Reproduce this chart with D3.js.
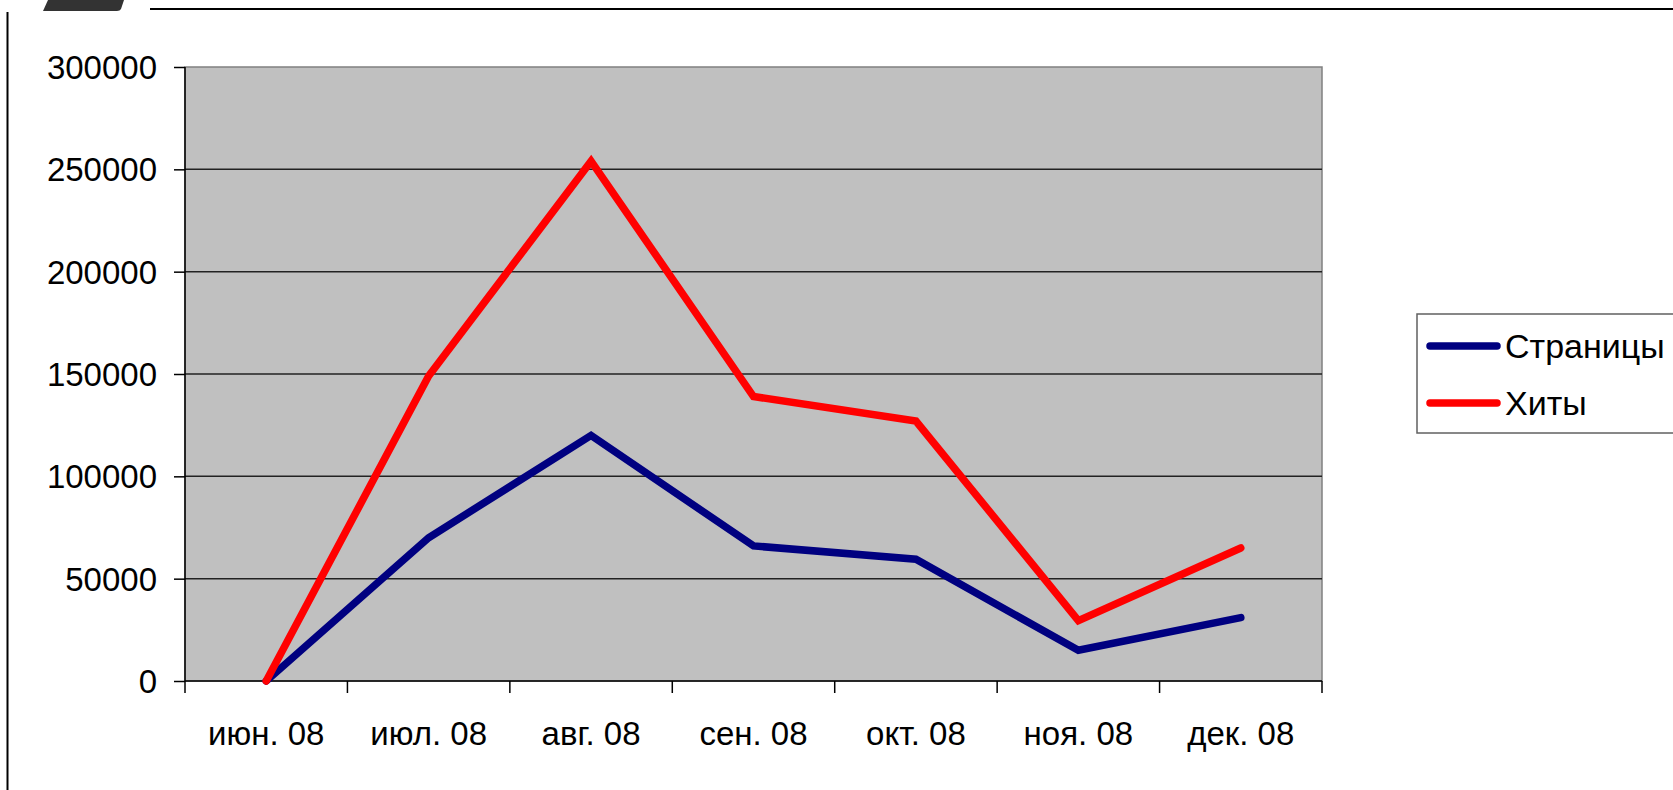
<!DOCTYPE html>
<html lang="ru">
<head>
<meta charset="UTF-8">
<title>Страницы и хиты</title>
<script src="https://cdn.jsdelivr.net/npm/d3@7"></script>
<style>
  body { margin: 0; background: #fff; }
  svg { display: block; font-family: "Liberation Sans", Arial, sans-serif; }
  .axis path { display: none; }
  .axis line { stroke: #000; stroke-width: 1.5px; }
  .axis text { fill: #000; }
</style>
</head>
<body>
<svg id="chart" width="1673" height="790"></svg>
<script>
// data
var months = ["июн. 08", "июл. 08", "авг. 08", "сен. 08", "окт. 08", "ноя. 08", "дек. 08"];
var pages = [0, 70000, 120000, 66000, 59500, 15000, 31000];
var hits = [0, 149000, 254000, 139000, 127000, 29500, 65000];
var yTicks = [0, 50000, 100000, 150000, 200000, 250000, 300000];
var seriesNames = ["Страницы", "Хиты"];
var seriesColors = ["#000080", "#ff0000"];

var svg = d3.select("#chart");
// plot area bounds (not "top": that name is taken by window.top)
var pLeft = 185, pRight = 1322, pTop = 67, pBottom = 681;

var x = d3.scaleBand().domain(months).range([pLeft, pRight]).padding(0);
var y = d3.scaleLinear().domain([0, 300000]).range([pBottom, pTop]);

// slide decoration
svg.append("path")
  .attr("d", "M43,11 L48,0 L124,0 L121,9 Q120,11 117,11 Z")
  .attr("fill", "#333");
svg.append("line").attr("x1", 150).attr("x2", 1673).attr("y1", 9).attr("y2", 9)
  .attr("stroke", "#000").attr("stroke-width", 2);
svg.append("line").attr("x1", 7.5).attr("x2", 7.5).attr("y1", 12).attr("y2", 790)
  .attr("stroke", "#000").attr("stroke-width", 2);

// plot area
svg.append("rect")
  .attr("x", pLeft).attr("y", pTop)
  .attr("width", pRight - pLeft).attr("height", pBottom - pTop)
  .attr("fill", "#c0c0c0").attr("stroke", "#808080").attr("stroke-width", 1.5);

// gridlines
svg.append("g").selectAll("line")
  .data(yTicks.slice(1, -1))
  .enter().append("line")
  .attr("x1", pLeft).attr("x2", pRight)
  .attr("y1", d => y(d)).attr("y2", d => y(d))
  .attr("stroke", "#222").attr("stroke-width", 1.5);

// y axis
var yAxis = svg.append("g").attr("class", "axis")
  .attr("transform", "translate(" + pLeft + ",0)")
  .call(d3.axisLeft(y).tickValues(yTicks).tickSize(11).tickPadding(17).tickFormat(d3.format("d")));
yAxis.selectAll("text").style("font-size", "33px").attr("dy", "0.35em");
svg.append("line").attr("x1", pLeft).attr("x2", pLeft).attr("y1", pTop).attr("y2", pBottom)
  .attr("stroke", "#000").attr("stroke-width", 1.5);

// x axis: ticks between categories
var edges = months.map(m => x(m)).concat([pRight]);
svg.append("line").attr("x1", pLeft).attr("x2", pRight).attr("y1", pBottom).attr("y2", pBottom)
  .attr("stroke", "#000").attr("stroke-width", 1.5);
svg.append("g").selectAll("line")
  .data(edges).enter().append("line")
  .attr("x1", d => d).attr("x2", d => d)
  .attr("y1", pBottom).attr("y2", pBottom + 12)
  .attr("stroke", "#000").attr("stroke-width", 1.5);
svg.append("g").selectAll("text")
  .data(months).enter().append("text")
  .attr("x", d => x(d) + x.bandwidth() / 2)
  .attr("y", 745)
  .attr("text-anchor", "middle")
  .style("font-size", "33px")
  .text(d => d);

// lines
var line = d3.line()
  .x((d, i) => x(months[i]) + x.bandwidth() / 2)
  .y(d => y(d));

[pages, hits].forEach(function (s, k) {
  svg.append("path")
    .datum(s)
    .attr("d", line)
    .attr("fill", "none")
    .attr("stroke", seriesColors[k])
    .attr("stroke-width", 7.5)
    .attr("stroke-linejoin", "miter")
    .attr("stroke-miterlimit", 3)
    .attr("stroke-linecap", "round");
});

// legend
var lg = svg.append("g");
lg.append("rect")
  .attr("x", 1417).attr("y", 314).attr("width", 270).attr("height", 119)
  .attr("fill", "#fff").attr("stroke", "#606060").attr("stroke-width", 1.5);
seriesNames.forEach(function (n, k) {
  var ly = 346 + k * 57;
  lg.append("line")
    .attr("x1", 1430).attr("x2", 1497).attr("y1", ly).attr("y2", ly)
    .attr("stroke", seriesColors[k]).attr("stroke-width", 7.5).attr("stroke-linecap", "round");
  lg.append("text")
    .attr("x", 1505).attr("y", ly).attr("dy", "0.35em")
    .style("font-size", "34px")
    .text(n);
});
</script>
</body>
</html>
